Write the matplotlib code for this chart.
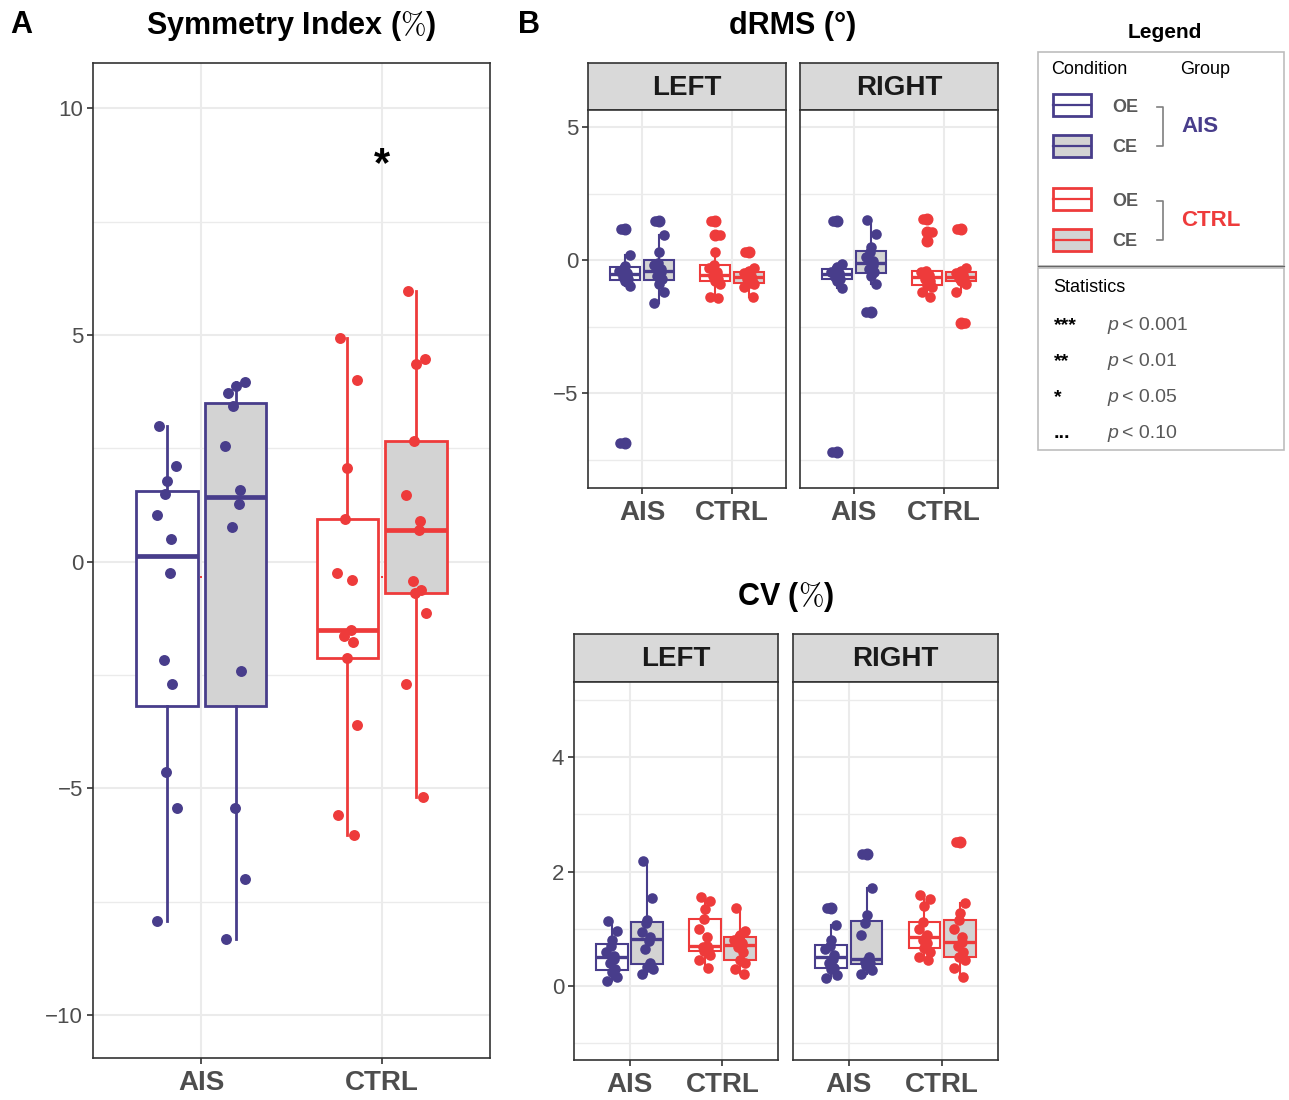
import matplotlib
matplotlib.use('Agg')
import matplotlib.pyplot as plt
from matplotlib.patches import Rectangle
import numpy as np

plt.rcParams['font.family'] = ['Liberation Sans', 'DejaVu Sans']
plt.rcParams['mathtext.fontset'] = 'cm'

# %% data
groups = ['AIS', 'CTRL']
conditions = ['OE', 'CE']
sides = ['LEFT', 'RIGHT']

# A: symmetry index (%)
si_ais_oe = [2.99, 2.10, 1.77, 1.49, 1.03, 0.51, -0.26, -2.18, -2.70, -4.64, -5.44, -7.93]
si_ais_ce = [3.71, 3.97, 3.88, 3.43, 2.56, 1.57, 1.28, 0.76, -2.42, -5.44, -7.00, -8.32]
si_ctrl_oe = [4.94, 4.00, 2.06, 0.93, -0.24, -0.41, -1.51, -1.64, -1.78, -2.13, -3.61, -5.59, -6.02]
si_ctrl_ce = [5.96, 4.46, 4.36, 2.66, 1.48, 0.90, 0.70, -0.42, -0.63, -0.69, -1.13, -2.71, -5.19]
si_mark = [-0.33, -0.33]
si_star = 8.75

# B: dRMS (deg)
drms_left_ais_oe = [1.18, 0.19, -0.21, -0.30, -0.40, -0.50, -0.55, -0.62, -0.71, -0.80, -0.97, -6.88]
drms_left_ais_ce = [1.48, 0.94, 0.30, -0.12, -0.20, -0.35, -0.45, -0.60, -0.70, -0.90, -1.22, -1.60]
drms_left_ctrl_oe = [1.48, 0.94, 0.29, -0.20, -0.30, -0.45, -0.55, -0.60, -0.70, -0.80, -0.90, -1.40, -1.42]
drms_left_ctrl_ce = [0.31, -0.30, -0.40, -0.45, -0.50, -0.60, -0.65, -0.70, -0.75, -0.85, -0.90, -1.00, -1.38]
drms_right_ais_oe = [1.45, -0.15, -0.25, -0.35, -0.45, -0.50, -0.55, -0.62, -0.70, -0.80, -1.05, -7.20]
drms_right_ais_ce = [1.52, 0.98, 0.48, 0.30, 0.10, -0.05, -0.20, -0.35, -0.45, -0.60, -0.90, -1.95]
drms_right_ctrl_oe = [1.54, 1.04, 0.73, -0.40, -0.45, -0.55, -0.65, -0.70, -0.80, -0.95, -1.00, -1.20, -1.40]
drms_right_ctrl_ce = [1.17, -0.30, -0.40, -0.46, -0.50, -0.55, -0.63, -0.68, -0.72, -0.78, -0.90, -1.20, -2.38]

# B: CV (%)
cv_left_ais_oe = [1.13, 0.97, 0.81, 0.70, 0.60, 0.52, 0.48, 0.40, 0.30, 0.25, 0.16, 0.09]
cv_left_ais_ce = [2.19, 1.53, 1.15, 1.10, 0.95, 0.85, 0.78, 0.65, 0.40, 0.33, 0.30, 0.22]
cv_left_ctrl_oe = [1.56, 1.49, 1.34, 1.18, 1.00, 0.85, 0.70, 0.68, 0.66, 0.61, 0.55, 0.45, 0.31]
cv_left_ctrl_ce = [1.36, 0.96, 0.90, 0.85, 0.80, 0.75, 0.72, 0.68, 0.60, 0.45, 0.40, 0.30, 0.22]
cv_right_ais_oe = [1.37, 1.07, 0.80, 0.70, 0.65, 0.55, 0.48, 0.40, 0.32, 0.30, 0.20, 0.15]
cv_right_ais_ce = [2.31, 1.72, 1.24, 1.10, 0.90, 0.50, 0.45, 0.42, 0.40, 0.35, 0.28, 0.22]
cv_right_ctrl_oe = [1.59, 1.52, 1.40, 1.12, 1.00, 0.90, 0.85, 0.80, 0.75, 0.66, 0.60, 0.50, 0.45]
cv_right_ctrl_ce = [2.52, 1.46, 1.28, 1.16, 1.00, 0.85, 0.77, 0.70, 0.60, 0.51, 0.45, 0.31, 0.16]

# fixed jitter pattern (fraction of jitter width)
jitter = [-0.7, 0.85, 0.0, -0.2, -0.95, 0.4, 0.3, -0.3, 0.5, -0.05, 0.9, -0.9, 0.6]

stat_marks = ['***', '**', '*', '...']
stat_p = ['0.001', '0.01', '0.05', '0.10']

# %% styling
W, H = 1289, 1100
col = {'AIS': '#483D8B', 'CTRL': '#EE3B3B'}
fill = {'OE': 'white', 'CE': '#D3D3D3'}
dodge = {'OE': -0.19, 'CE': 0.19}
GRID = '#EBEBEB'
DARK = '#333333'
TICK = '#4D4D4D'


def frac(x0, y0, x1, y1):
    return [x0 / W, 1 - y1 / H, (x1 - x0) / W, (y1 - y0) / H]


def style_ax(ax, ylim, yticks, yminor, show_y=True, ysize=16):
    ax.set_xlim(0.4, 2.6)
    ax.set_ylim(*ylim)
    ax.set_xticks([1, 2])
    ax.set_xticklabels(groups, fontsize=20, fontweight='bold')
    ax.set_yticks(yticks)
    ax.set_yticks(yminor, minor=True)
    ax.set_yticklabels([('\u2212' if t < 0 else '') + str(abs(t)) for t in yticks],
                       fontsize=ysize)
    ax.set_axisbelow(True)
    ax.grid(which='major', color=GRID, lw=1.5)
    ax.grid(which='minor', axis='y', color=GRID, lw=1.0)
    ax.tick_params(which='major', length=4, width=1.2, color=DARK, labelcolor=TICK, pad=3)
    ax.tick_params(axis='x', pad=5)
    ax.tick_params(which='minor', length=0)
    if not show_y:
        ax.tick_params(axis='y', labelleft=False, length=0)
    for s in ax.spines.values():
        s.set_color(DARK)
        s.set_linewidth(1.2)


def draw_group(ax, pos, vals, g, c, lw, mlw, s, jw):
    vals = np.array(vals)
    bp = ax.boxplot(vals, positions=[pos], widths=0.34, patch_artist=True,
                    showcaps=False, whis=1.5, manage_ticks=False)
    for b in bp['boxes']:
        b.set(facecolor=fill[c], edgecolor=col[g], linewidth=lw)
    for w in bp['whiskers']:
        w.set(color=col[g], linewidth=lw)
    for m in bp['medians']:
        m.set(color=col[g], linewidth=mlw, solid_capstyle='butt')
    for f in bp['fliers']:
        f.set(marker='o', markerfacecolor=col[g], markeredgecolor=col[g],
              markersize=np.sqrt(s))
    xs = pos + np.array(jitter[:len(vals)]) * jw
    ax.scatter(xs, vals, s=s, color=col[g], zorder=4, linewidths=0)


fig = plt.figure(figsize=(W / 100, H / 100), dpi=100)

# %% panel A
axA = fig.add_axes(frac(93, 63, 490, 1058))
si = {('AIS', 'OE'): si_ais_oe, ('AIS', 'CE'): si_ais_ce,
      ('CTRL', 'OE'): si_ctrl_oe, ('CTRL', 'CE'): si_ctrl_ce}
for i, g in enumerate(groups):
    for c in conditions:
        draw_group(axA, i + 1 + dodge[c], si[(g, c)], g, c, 2.0, 3.4, 62, 0.06)
axA.scatter([1, 2], si_mark, s=4, color=col['CTRL'], marker='s', linewidths=0, zorder=3)
axA.text(2, si_star, '*', ha='center', va='center', fontsize=30, fontweight='bold')
style_ax(axA, (-10.95, 11.0), [10, 5, 0, -5, -10], [7.5, 2.5, -2.5, -7.5])

# %% panel B
facets = {
    'drms': {
        'LEFT': {('AIS', 'OE'): drms_left_ais_oe, ('AIS', 'CE'): drms_left_ais_ce,
                 ('CTRL', 'OE'): drms_left_ctrl_oe, ('CTRL', 'CE'): drms_left_ctrl_ce},
        'RIGHT': {('AIS', 'OE'): drms_right_ais_oe, ('AIS', 'CE'): drms_right_ais_ce,
                  ('CTRL', 'OE'): drms_right_ctrl_oe, ('CTRL', 'CE'): drms_right_ctrl_ce}},
    'cv': {
        'LEFT': {('AIS', 'OE'): cv_left_ais_oe, ('AIS', 'CE'): cv_left_ais_ce,
                 ('CTRL', 'OE'): cv_left_ctrl_oe, ('CTRL', 'CE'): cv_left_ctrl_ce},
        'RIGHT': {('AIS', 'OE'): cv_right_ais_oe, ('AIS', 'CE'): cv_right_ais_ce,
                  ('CTRL', 'OE'): cv_right_ctrl_oe, ('CTRL', 'CE'): cv_right_ctrl_ce}},
}
layout = {
    'drms': {'LEFT': (588, 786), 'RIGHT': (800, 998), 'strip': (63, 110), 'panel': (110, 488),
             'ylim': (-8.57, 5.64), 'yticks': [5, 0, -5], 'yminor': [2.5, -2.5, -7.5]},
    'cv': {'LEFT': (574, 778), 'RIGHT': (793, 998), 'strip': (634, 682), 'panel': (682, 1060),
           'ylim': (-1.29, 5.31), 'yticks': [4, 2, 0], 'yminor': [5, 3, 1, -1]},
}
for key, lay in layout.items():
    for k, side in enumerate(sides):
        x0, x1 = lay[side]
        st = fig.add_axes(frac(x0, lay['strip'][0], x1, lay['strip'][1]))
        st.set_facecolor('#D9D9D9')
        st.set_xticks([])
        st.set_yticks([])
        for s in st.spines.values():
            s.set_color(DARK)
            s.set_linewidth(1.2)
        st.text(0.5, 0.47, side, ha='center', va='center', fontsize=20,
                fontweight='bold', color='#1A1A1A', transform=st.transAxes)
        ax = fig.add_axes(frac(x0, lay['panel'][0], x1, lay['panel'][1]))
        for i, g in enumerate(groups):
            for c in conditions:
                draw_group(ax, i + 1 + dodge[c], facets[key][side][(g, c)], g, c,
                           1.5, 2.4, 58, 0.065)
        style_ax(ax, lay['ylim'], lay['yticks'], lay['yminor'], show_y=(k == 0))

# %% titles and legend
ov = fig.add_axes([0, 0, 1, 1])
ov.set_xlim(0, W)
ov.set_ylim(H, 0)
ov.axis('off')
ov.patch.set_alpha(0)

ov.text(10, 25, 'A', fontsize=22, fontweight='bold', va='center')
ov.text(518, 25, 'B', fontsize=22, fontweight='bold', va='center')
ov.text(291, 26, r'Symmetry Index ($\%$)', fontsize=22, fontweight='bold', ha='center', va='center')
ov.text(793, 26, 'dRMS (°)', fontsize=22, fontweight='bold', ha='center', va='center')
ov.text(786, 597, r'CV ($\%$)', fontsize=22, fontweight='bold', ha='center', va='center')

LG = '#BDBDBD'
ov.text(1165, 32, 'Legend', fontsize=15, fontweight='bold', ha='center', va='center')
ov.add_patch(Rectangle((1038, 52), 246, 214, fill=False, ec=LG, lw=1.2))
ov.add_patch(Rectangle((1038, 268), 246, 182, fill=False, ec=LG, lw=1.2))
ov.plot([1038, 1284], [266, 266], color='#666666', lw=0.9)
ov.text(1051, 70, 'Condition', fontsize=13, va='center')
ov.text(1180, 70, 'Group', fontsize=13, va='center')

for gi, g in enumerate(groups):
    y0 = 94 + gi * 94
    for ci, c in enumerate(conditions):
        yy = y0 + ci * 41
        ov.add_patch(Rectangle((1053, yy), 38, 22, fc=fill[c], ec=col[g], lw=2.0))
        ov.plot([1053, 1091], [yy + 11, yy + 11], color=col[g], lw=1.6)
        ov.text(1112, yy + 13, c, fontsize=13, fontweight='bold', color='#595959', va='center')
    ov.plot([1157, 1163, 1163, 1157], [y0 + 13, y0 + 13, y0 + 52, y0 + 52],
            color='#7F7F7F', lw=1.2)
    ov.text(1181, y0 + 33, g, fontsize=16, fontweight='bold', color=col[g], va='center')

ov.text(1053, 288, 'Statistics', fontsize=13, va='center')
for i, (m, p) in enumerate(zip(stat_marks, stat_p)):
    yy = 325 + i * 36
    ov.text(1054, yy + 1, m, fontsize=14, fontweight='bold', va='center')
    ov.text(1107, yy, 'p', fontsize=14, color='#595959', va='center', fontstyle='italic')
    ov.text(1122, yy, '< ' + p, fontsize=14, color='#595959', va='center')

fig.savefig('out.png', dpi=100)
